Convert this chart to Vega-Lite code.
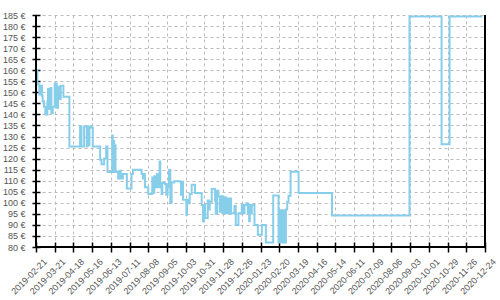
{
  "$schema": "https://vega.github.io/schema/vega-lite/v6.json",
  "width": 449,
  "height": 232,
  "autosize": "none",
  "padding": {"left": 36, "top": 15, "right": 15, "bottom": 53},
  "background": "white",
  "config": {
    "view": {"stroke": null},
    "axis": {
      "labelFont": "Liberation Sans",
      "labelFontSize": 9,
      "labelColor": "#555",
      "gridColor": "#bbb",
      "gridDash": [3, 3],
      "gridWidth": 1,
      "tickColor": "#000",
      "tickWidth": 1.5,
      "domain": false,
      "labelOverlap": false,
      "title": null
    }
  },
  "resolve": {"axis": {"x": "independent", "y": "independent"}},
  "data": {
    "values": [
      {"date": "2019-02-21", "price": 160},
      {"date": "2019-02-23", "price": 153.5},
      {"date": "2019-02-26", "price": 149},
      {"date": "2019-02-28", "price": 153},
      {"date": "2019-03-02", "price": 148.5},
      {"date": "2019-03-03", "price": 146},
      {"date": "2019-03-05", "price": 143.5},
      {"date": "2019-03-07", "price": 140},
      {"date": "2019-03-10", "price": 146},
      {"date": "2019-03-11", "price": 151.5},
      {"date": "2019-03-12", "price": 142.5},
      {"date": "2019-03-15", "price": 152},
      {"date": "2019-03-16", "price": 140.5},
      {"date": "2019-03-18", "price": 143.5},
      {"date": "2019-03-21", "price": 154},
      {"date": "2019-03-24", "price": 143},
      {"date": "2019-03-26", "price": 152.5},
      {"date": "2019-03-28", "price": 147},
      {"date": "2019-03-30", "price": 153},
      {"date": "2019-04-03", "price": 148},
      {"date": "2019-04-12", "price": 125.5},
      {"date": "2019-04-28", "price": 134.5},
      {"date": "2019-04-30", "price": 125.5},
      {"date": "2019-05-04", "price": 134.5},
      {"date": "2019-05-08", "price": 125.5},
      {"date": "2019-05-09", "price": 134.5},
      {"date": "2019-05-11", "price": 126},
      {"date": "2019-05-12", "price": 134.5},
      {"date": "2019-05-15", "price": 134},
      {"date": "2019-05-17", "price": 125.5},
      {"date": "2019-05-28", "price": 119.5},
      {"date": "2019-05-30", "price": 117.5},
      {"date": "2019-06-03", "price": 120},
      {"date": "2019-06-06", "price": 125.5},
      {"date": "2019-06-08", "price": 114},
      {"date": "2019-06-15", "price": 130.5},
      {"date": "2019-06-16", "price": 114},
      {"date": "2019-06-17", "price": 128},
      {"date": "2019-06-18", "price": 114},
      {"date": "2019-06-19", "price": 126},
      {"date": "2019-06-20", "price": 114},
      {"date": "2019-06-24", "price": 111},
      {"date": "2019-06-26", "price": 114.5},
      {"date": "2019-06-28", "price": 111},
      {"date": "2019-07-01", "price": 113},
      {"date": "2019-07-07", "price": 106.5},
      {"date": "2019-07-14", "price": 113},
      {"date": "2019-07-16", "price": 115},
      {"date": "2019-07-29", "price": 113},
      {"date": "2019-07-31", "price": 111},
      {"date": "2019-08-02", "price": 113},
      {"date": "2019-08-03", "price": 107},
      {"date": "2019-08-08", "price": 104},
      {"date": "2019-08-14", "price": 111.5},
      {"date": "2019-08-15", "price": 104.5},
      {"date": "2019-08-17", "price": 112},
      {"date": "2019-08-19", "price": 107},
      {"date": "2019-08-21", "price": 113},
      {"date": "2019-08-23", "price": 107},
      {"date": "2019-08-25", "price": 118.7},
      {"date": "2019-08-26", "price": 107.5},
      {"date": "2019-08-28", "price": 104},
      {"date": "2019-08-29", "price": 109},
      {"date": "2019-09-02", "price": 108.5},
      {"date": "2019-09-04", "price": 103.6},
      {"date": "2019-09-06", "price": 108},
      {"date": "2019-09-07", "price": 107},
      {"date": "2019-09-08", "price": 114.9},
      {"date": "2019-09-10", "price": 100},
      {"date": "2019-09-12", "price": 109.2},
      {"date": "2019-09-16", "price": 109.8},
      {"date": "2019-09-25", "price": 109.5},
      {"date": "2019-09-26", "price": 103.6},
      {"date": "2019-09-28", "price": 109.5},
      {"date": "2019-09-29", "price": 101.4},
      {"date": "2019-10-04", "price": 94.6},
      {"date": "2019-10-05", "price": 101.4},
      {"date": "2019-10-07", "price": 99.8},
      {"date": "2019-10-09", "price": 104},
      {"date": "2019-10-12", "price": 108.2},
      {"date": "2019-10-17", "price": 104.4},
      {"date": "2019-10-27", "price": 99},
      {"date": "2019-10-29", "price": 91.6},
      {"date": "2019-10-30", "price": 99},
      {"date": "2019-11-01", "price": 93.1},
      {"date": "2019-11-05", "price": 101},
      {"date": "2019-11-07", "price": 97},
      {"date": "2019-11-08", "price": 100.5},
      {"date": "2019-11-11", "price": 106.2},
      {"date": "2019-11-16", "price": 101},
      {"date": "2019-11-17", "price": 95},
      {"date": "2019-11-19", "price": 105.5},
      {"date": "2019-11-21", "price": 102.9},
      {"date": "2019-11-23", "price": 96},
      {"date": "2019-11-25", "price": 103},
      {"date": "2019-11-27", "price": 95.3},
      {"date": "2019-11-29", "price": 102.5},
      {"date": "2019-12-02", "price": 95.3},
      {"date": "2019-12-04", "price": 102},
      {"date": "2019-12-06", "price": 95.3},
      {"date": "2019-12-08", "price": 102},
      {"date": "2019-12-10", "price": 95.3},
      {"date": "2019-12-15", "price": 98.6},
      {"date": "2019-12-17", "price": 90},
      {"date": "2019-12-21", "price": 95.3},
      {"date": "2019-12-26", "price": 99},
      {"date": "2019-12-28", "price": 95.3},
      {"date": "2019-12-30", "price": 99},
      {"date": "2020-01-02", "price": 99.8},
      {"date": "2020-01-04", "price": 95.3},
      {"date": "2020-01-06", "price": 91.6},
      {"date": "2020-01-07", "price": 99},
      {"date": "2020-01-09", "price": 95.3},
      {"date": "2020-01-10", "price": 99},
      {"date": "2020-01-14", "price": 90},
      {"date": "2020-01-19", "price": 85.5},
      {"date": "2020-01-25", "price": 90},
      {"date": "2020-01-31", "price": 82},
      {"date": "2020-02-11", "price": 103.3},
      {"date": "2020-02-19", "price": 82},
      {"date": "2020-02-21", "price": 96.6},
      {"date": "2020-02-23", "price": 82},
      {"date": "2020-02-26", "price": 96.6},
      {"date": "2020-02-29", "price": 82},
      {"date": "2020-03-01", "price": 97},
      {"date": "2020-03-03", "price": 100.5},
      {"date": "2020-03-05", "price": 103.2},
      {"date": "2020-03-08", "price": 114.1},
      {"date": "2020-03-20", "price": 104.4},
      {"date": "2020-05-09", "price": 94.3},
      {"date": "2020-09-02", "price": 184.3},
      {"date": "2020-10-20", "price": 126.5},
      {"date": "2020-11-01", "price": 184.3},
      {"date": "2020-12-20", "price": 184.3}
    ]
  },
  "layer": [
    {
      "mark": {"type": "line", "interpolate": "step-after", "color": "#87CEEB", "strokeWidth": 2},
      "encoding": {
        "x": {
          "field": "date",
          "type": "temporal",
          "scale": {
            "type": "utc",
            "nice": false,
            "domain": [
              {"year": 2019, "month": 2, "date": 21, "utc": true},
              {"year": 2020, "month": 12, "date": 24, "utc": true}
            ]
          },
          "axis": {
            "format": "%Y-%m-%d",
            "labelAngle": -45,
            "tickSize": 10,
            "offset": -5,
            "labelPadding": 5,
            "labelOffset": 6,
            "values": [
              {"year": 2019, "month": 2, "date": 21, "utc": true},
              {"year": 2019, "month": 3, "date": 21, "utc": true},
              {"year": 2019, "month": 4, "date": 18, "utc": true},
              {"year": 2019, "month": 5, "date": 16, "utc": true},
              {"year": 2019, "month": 6, "date": 13, "utc": true},
              {"year": 2019, "month": 7, "date": 11, "utc": true},
              {"year": 2019, "month": 8, "date": 8, "utc": true},
              {"year": 2019, "month": 9, "date": 5, "utc": true},
              {"year": 2019, "month": 10, "date": 3, "utc": true},
              {"year": 2019, "month": 10, "date": 31, "utc": true},
              {"year": 2019, "month": 11, "date": 28, "utc": true},
              {"year": 2019, "month": 12, "date": 26, "utc": true},
              {"year": 2020, "month": 1, "date": 23, "utc": true},
              {"year": 2020, "month": 2, "date": 20, "utc": true},
              {"year": 2020, "month": 3, "date": 19, "utc": true},
              {"year": 2020, "month": 4, "date": 16, "utc": true},
              {"year": 2020, "month": 5, "date": 14, "utc": true},
              {"year": 2020, "month": 6, "date": 11, "utc": true},
              {"year": 2020, "month": 7, "date": 9, "utc": true},
              {"year": 2020, "month": 8, "date": 6, "utc": true},
              {"year": 2020, "month": 9, "date": 3, "utc": true},
              {"year": 2020, "month": 10, "date": 1, "utc": true},
              {"year": 2020, "month": 10, "date": 29, "utc": true},
              {"year": 2020, "month": 11, "date": 26, "utc": true},
              {"year": 2020, "month": 12, "date": 24, "utc": true}
            ]
          }
        },
        "y": {
          "field": "price",
          "type": "quantitative",
          "scale": {"domain": [80, 185], "nice": false, "zero": false},
          "axis": {
            "values": [80, 85, 90, 95, 100, 105, 110, 115, 120, 125, 130, 135, 140, 145, 150, 155, 160, 165, 170, 175, 180, 185],
            "labelExpr": "datum.value + ' €'",
            "tickSize": 8,
            "offset": -4,
            "labelPadding": 7
          }
        }
      }
    },
    {
      "mark": {"type": "rule", "color": "#000", "strokeWidth": 1.5},
      "encoding": {"x": {"datum": {"year": 2019, "month": 2, "date": 21, "utc": true}, "type": "temporal", "axis": null}}
    },
    {
      "mark": {"type": "rule", "color": "#000", "strokeWidth": 1.5},
      "encoding": {"x": {"datum": {"year": 2020, "month": 12, "date": 24, "utc": true}, "type": "temporal", "axis": null}}
    },
    {
      "mark": {"type": "rule", "color": "#000", "strokeWidth": 1.5},
      "encoding": {"y": {"datum": 80, "type": "quantitative", "axis": null}}
    }
  ]
}
